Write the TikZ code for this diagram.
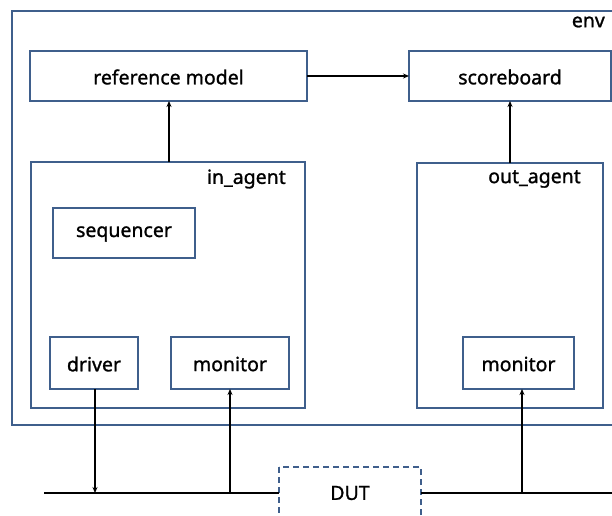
\documentclass[tikz,border=0pt]{standalone}
\usepackage{fontspec}
\setmainfont[FakeBold=1.2]{Noto Sans}
\usetikzlibrary{arrows.meta}
\definecolor{boxblue}{HTML}{3F5F8C}
\tikzset{
  blk/.style={draw=boxblue, line width=1.4pt, fill=white},
  lbl/.style={font=\fontsize{19.5}{22}\bfseries, text=black, inner sep=0pt},
  conn/.style={draw=black, line width=1.1pt},
  arr/.style={conn, -{Stealth[length=6pt,width=5pt]}},
}
\begin{document}
\begin{tikzpicture}[x=1pt,y=-1pt]
\useasboundingbox (0,0) rectangle (612,515);
\clip (0,0) rectangle (612,515);
\fill[white] (0,0) rectangle (612,515);
% environment frame, running past the right edge
\draw[blk] (12,11) rectangle (630,425);
\node[lbl, anchor=east] (envlbl) at (605,22) {env};
% top row
\draw[blk] (30,51) rectangle (307,101);
\node[lbl] (refm) at (168.5,77) {reference model};
\draw[blk] (409,51) rectangle (611,101);
\node[lbl] (scb) at (510,77) {scoreboard};
\coordinate (refE) at (307,76);
\coordinate (scbW) at (409,76);
\coordinate (refS) at (169,101);
\coordinate (scbS) at (510,101);
% input agent
\draw[blk] (31,162) rectangle (305,408);
\node[lbl, anchor=east] (inlbl) at (286,179) {in\_agent};
\coordinate (inN) at (169,162);
\draw[blk] (53,208) rectangle (195,258);
\node[lbl] (seq) at (124,234) {sequencer};
\draw[blk] (50,337) rectangle (138,389);
\node[lbl] (drv) at (94,364) {driver};
\draw[blk] (171,337) rectangle (289,389);
\node[lbl] (mon1) at (230,364) {monitor};
\coordinate (drvS) at (95,389);
\coordinate (mon1S) at (230,389);
% output agent
\draw[blk] (417,163) rectangle (603,408);
\node[lbl, anchor=east] (outlbl) at (581,179) {out\_agent};
\coordinate (outN) at (510,163);
\draw[blk] (463,337) rectangle (574,389);
\node[lbl] (mon2) at (518.5,364) {monitor};
\coordinate (mon2S) at (522,389);
% device under test and its bus
\draw[boxblue, line width=1.4pt, dash pattern=on 6pt off 4pt] (279,467) rectangle (421,530);
\node[lbl] (dut) at (350,493) {DUT};
\coordinate (busL) at (44,493);
\coordinate (dutW) at (279,493);
\coordinate (dutE) at (421,493);
\coordinate (busR) at (612,493);
\coordinate (drvB) at (95,493);
\coordinate (mon1B) at (230,493);
\coordinate (mon2B) at (522,493);
\draw[conn] (busL) -- (dutW);
\draw[conn] (dutE) -- (busR);
% connectors
\draw[arr] (refE) -- (scbW);
\draw[arr] (inN) -- (refS);
\draw[arr] (outN) -- (scbS);
\draw[arr] (drvS) -- (drvB);
\draw[arr] (mon1B) -- (mon1S);
\draw[arr] (mon2B) -- (mon2S);
\end{tikzpicture}
\end{document}
